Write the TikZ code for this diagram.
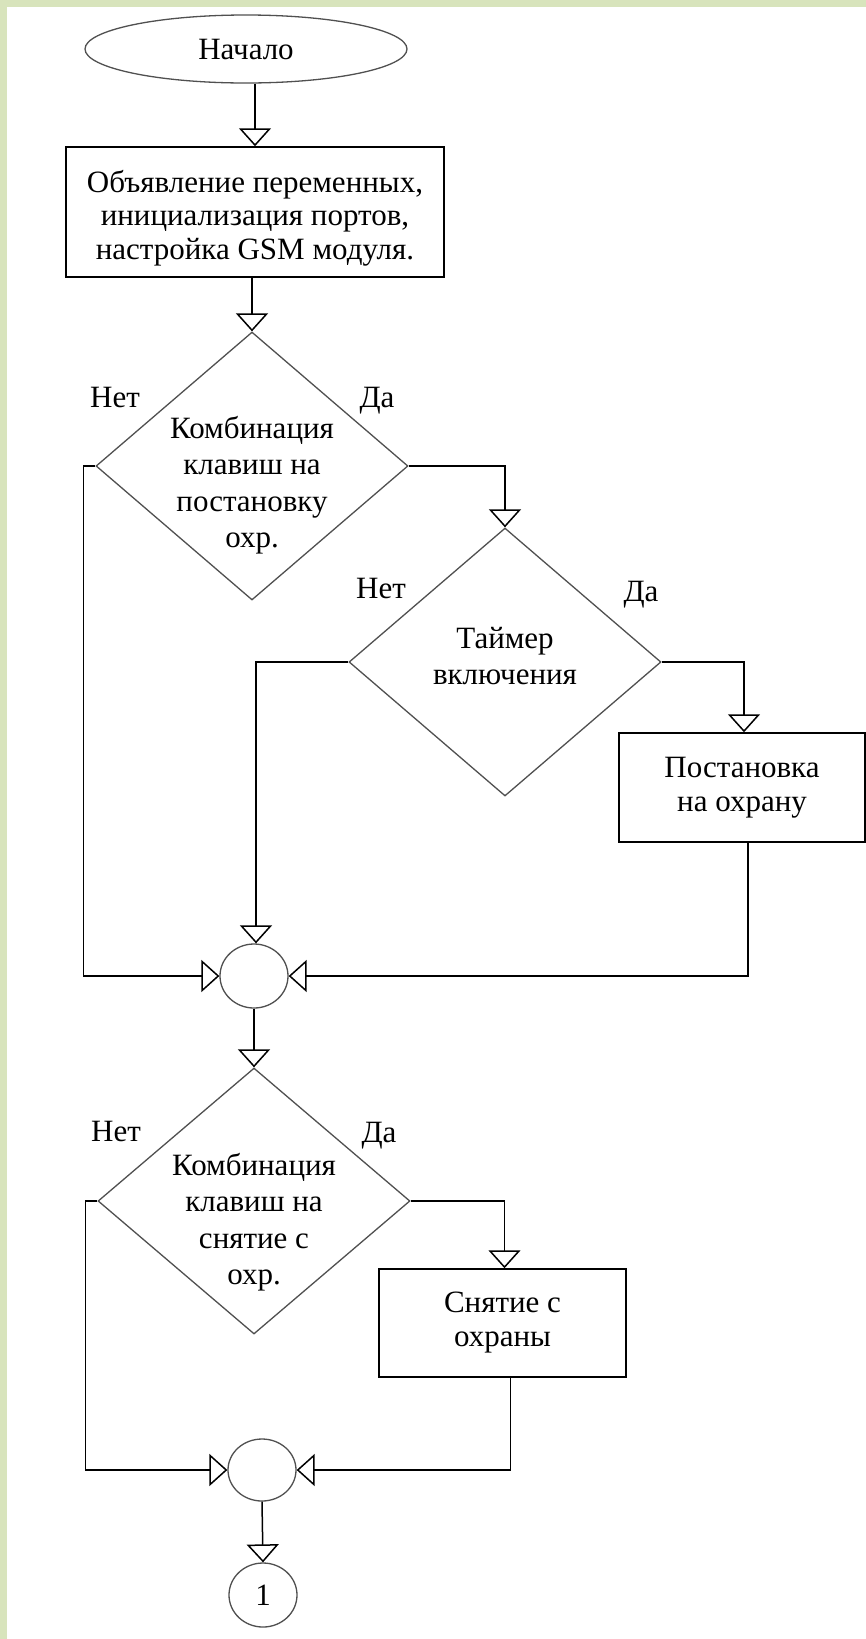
\documentclass[tikz,border=0pt]{standalone}
\usepackage{fontspec}
\setmainfont{Liberation Serif}
\usetikzlibrary{arrows.meta,shapes.geometric}
\definecolor{pagegreen}{RGB}{216,228,188}
\definecolor{shapegray}{RGB}{80,80,80}

\begin{document}
\begin{tikzpicture}[x=1pt,y=-1pt,
  flow/.style={draw=black,line width=1.5pt},
  tip/.style={-{Triangle[open,length=18pt,width=32pt]}},
  txt/.style={font=\fontsize{31}{33.5}\selectfont,align=center,inner sep=0pt},
  dtxt/.style={font=\fontsize{31}{36.5}\selectfont,align=center,inner sep=0pt},
  procbox/.style={rectangle,draw=black,line width=1.5pt,inner sep=0pt,
    font=\fontsize{31}{34}\selectfont,align=center},
  decision/.style={diamond,draw=shapegray,line width=1.3pt,inner sep=0pt,
    minimum width=312pt,minimum height=268pt},
  terminal/.style={ellipse,draw=shapegray,line width=1.3pt,inner sep=0pt,
    font=\fontsize{31}{33.5}\selectfont},
  junction/.style={ellipse,draw=shapegray,line width=1.3pt,inner sep=0pt,
    minimum width=68pt,minimum height=64pt},
  answer/.style={font=\fontsize{31}{33.5}\selectfont,inner sep=0pt,anchor=base}
]
% page background with the green margin on the top and left
\fill[pagegreen] (0,0) rectangle (866,1639);
\fill[white] (7,7) rectangle (866,1639);
\useasboundingbox (0,0) rectangle (866,1639);

% blocks
\node[terminal,minimum width=322pt,minimum height=68pt] (start) at (246,49) {Начало};
\node[procbox,minimum width=378pt,minimum height=130pt] (init) at (255,212) {};
\node[txt] (initt) at (255,218) {Объявление переменных,\\инициализация портов,\\настройка GSM модуля.};

\node[decision] (d1) at (252,466) {};
\node[dtxt] (d1t) at (252,485) {Комбинация\\клавиш на\\постановку\\охр.};

\node[decision] (d2) at (505,662) {};
\node[dtxt] (d2t) at (505,656) {Таймер\\включения};

\node[procbox,minimum width=246pt,minimum height=109pt] (arm) at (742,787.5) {Постановка\\на охрану};

\node[junction] (j1) at (254,976) {};

\node[decision,minimum height=266pt] (d3) at (254,1201) {};
\node[dtxt] (d3t) at (254,1222) {Комбинация\\клавиш на\\снятие с\\охр.};

\node[procbox,minimum width=247pt,minimum height=108pt] (disarm) at (502.5,1323) {Снятие с\\охраны};

\node[junction,minimum height=62pt] (j2) at (262,1470) {};
\node[junction,font=\fontsize{31}{33.5}\selectfont] (link) at (263,1595) {1};

% branch labels
\node[answer] (n1) at (115,407) {Нет};
\node[answer] (y1) at (377,407) {Да};
\node[answer] (n2) at (381,598) {Нет};
\node[answer] (y2) at (641,601) {Да};
\node[answer] (n3) at (116,1141) {Нет};
\node[answer] (y3) at (379,1142) {Да};

% connectors
\draw[flow,tip] (start.south -| init.north) -- (init.north);
\draw[flow,tip] (init.south -| d1.north) -- (d1.north);
\draw[flow,tip] (d1.east) -| (d2.north);
\draw[flow,tip] (d1.west) -- ++(-12,0) |- (j1.west);
\draw[flow,tip] (d2.west) -| ([xshift=2pt]j1.north);
\draw[flow,tip] (d2.east) -| ([xshift=2pt]arm.north);
\draw[flow,tip] ([xshift=6pt]arm.south) |- (j1.east);
\draw[flow,tip] (j1.south) -- (d3.north);
\draw[flow,tip] (d3.east) -| ([xshift=2pt]disarm.north);
\draw[flow,tip] (d3.west) -- ++(-12,0) |- (j2.west);
\draw[flow,tip] ([xshift=8pt]disarm.south) |- (j2.east);
\draw[flow,tip] (j2.south) -- (link.north);
\end{tikzpicture}
\end{document}
